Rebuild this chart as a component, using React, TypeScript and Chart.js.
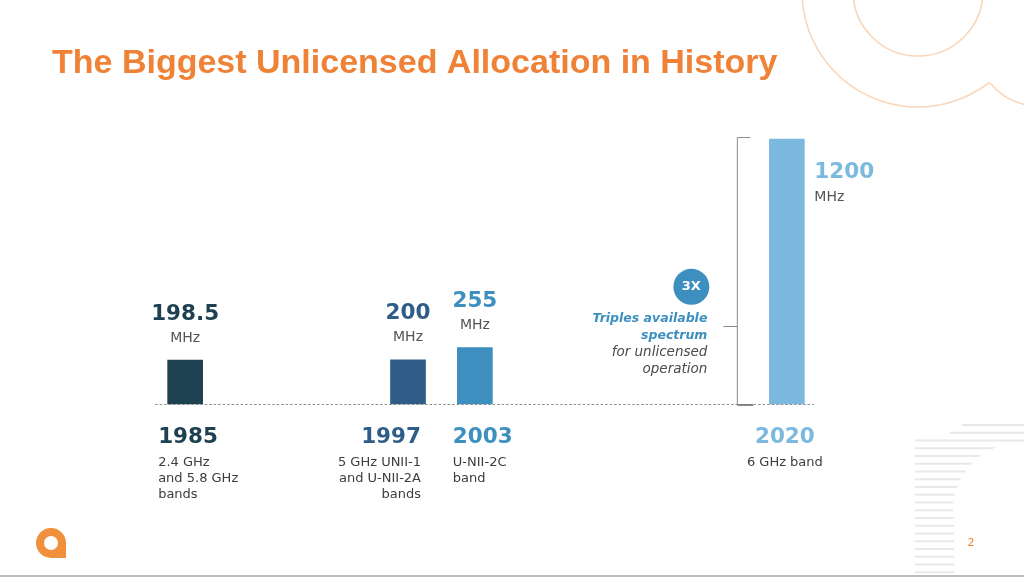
import { useEffect, useRef } from "react";
import { Chart, registerables } from "chart.js";

Chart.register(...registerables);

// ---------- data ----------
const TITLE = "The Biggest Unlicensed Allocation in History";
const YEARS = ["1985", "1997", "2003", "2020"];
const VALUES = [198.5, 200, 255, 1200];
const UNIT = "MHz";
const DESCRIPTIONS = [
  ["2.4 GHz", "and 5.8 GHz", "bands"],
  ["5 GHz UNII-1", "and U-NII-2A", "bands"],
  ["U-NII-2C", "band"],
  ["6 GHz band"],
];
const SPACERS = [9, 2, 13]; // empty timeline slots between the bars
const Y_MAX = 1200;
const BADGE = "3X";
const CALLOUT_BOLD = ["Triples available", "spectrum"];
const CALLOUT_TEXT = ["for unlicensed", "operation"];
const PAGE_NUMBER = "2";

// ---------- style ----------
const COLORS = ["#1E4151", "#2F5D88", "#3C8FBF", "#7CB9DF"];
const ORANGE = "#EF8236";
const FONT = '"DejaVu Sans"';
const LABEL_ALIGN: CanvasTextAlign[] = ["left", "right", "left", "center"];
const LABEL_DX = [-27, 13, -22, -2];

const labels: string[] = [];
const values: (number | null)[] = [];
const colors: string[] = [];
const barIndex: number[] = [];
YEARS.forEach((y, i) => {
  barIndex.push(labels.length);
  labels.push(y);
  values.push(VALUES[i]);
  colors.push(COLORS[i]);
  const gap = SPACERS[i] || 0;
  for (let k = 0; k < gap; k++) {
    labels.push("");
    values.push(null);
    colors.push("transparent");
  }
});

function txt(
  ctx: CanvasRenderingContext2D,
  s: string,
  x: number,
  y: number,
  font: string,
  color: string,
  align: CanvasTextAlign = "left",
  baseline: CanvasTextBaseline = "middle"
) {
  ctx.font = font;
  ctx.fillStyle = color;
  ctx.textAlign = align;
  ctx.textBaseline = baseline;
  ctx.fillText(s, x, y);
}

const slidePlugin = {
  id: "slide",
  beforeDraw(chart: any) {
    const ctx: CanvasRenderingContext2D = chart.ctx;
    ctx.save();
    ctx.fillStyle = "#ffffff";
    ctx.fillRect(0, 0, chart.width, chart.height);

    // decorative circles top-right
    ctx.strokeStyle = "#F8D6B8";
    ctx.lineWidth = 1.5;
    ctx.beginPath();
    ctx.arc(918, -9, 65, 0, Math.PI * 2);
    ctx.stroke();
    ctx.beginPath();
    ctx.arc(918, -9, 116, (52 * Math.PI) / 180, (176 * Math.PI) / 180);
    ctx.stroke();
    ctx.beginPath();
    ctx.moveTo(990, 83);
    ctx.quadraticCurveTo(1004, 100, 1026, 105);
    ctx.stroke();

    // stripes bottom-right
    ctx.strokeStyle = "#E8E8E8";
    ctx.lineWidth = 2;
    for (let k = 0; k < 20; k++) {
      const y = 425 + k * 7.75;
      const x0 = k === 0 ? 962 : k === 1 ? 950 : 915;
      ctx.beginPath();
      ctx.moveTo(x0, y);
      ctx.lineTo(1024, y);
      ctx.stroke();
    }
    ctx.fillStyle = "#ffffff";
    ctx.beginPath();
    ctx.arc(1020, 510, 67, 0, Math.PI * 2);
    ctx.fill();
    ctx.fillRect(954, 505, 80, 80);

    // title
    txt(ctx, TITLE, 52, 73, `bold 34px "Liberation Sans"`, ORANGE, "left", "alphabetic");

    // logo
    ctx.fillStyle = "#F0903C";
    ctx.beginPath();
    ctx.arc(51, 543, 15, 0, Math.PI * 2);
    ctx.fill();
    ctx.fillRect(51, 543, 15, 15);
    ctx.fillStyle = "#ffffff";
    ctx.beginPath();
    ctx.arc(51, 543, 7, 0, Math.PI * 2);
    ctx.fill();

    // page number
    txt(ctx, PAGE_NUMBER, 971, 543, `11px ${FONT}`, ORANGE, "center");

    // slide bottom border
    ctx.fillStyle = "#BDBDBD";
    ctx.fillRect(0, 575, chart.width, 2);
    ctx.restore();
  },
  afterDatasetsDraw(chart: any) {
    const ctx: CanvasRenderingContext2D = chart.ctx;
    const meta = chart.getDatasetMeta(0);
    const bars = barIndex.map((i) => meta.data[i]);
    const base = chart.scales.y.getPixelForValue(0);
    ctx.save();

    // dotted baseline
    ctx.strokeStyle = "#8E8E8E";
    ctx.lineWidth = 1;
    ctx.setLineDash([2.5, 2]);
    ctx.beginPath();
    ctx.moveTo(bars[0].x - 30, base + 0.5);
    ctx.lineTo(bars[bars.length - 1].x + 27, base + 0.5);
    ctx.stroke();
    ctx.setLineDash([]);

    const last = bars.length - 1;
    bars.forEach((b: any, i: number) => {
      const value = String(VALUES[i]);
      const big = `bold 21.5px ${FONT}`;
      const small = `14px ${FONT}`;
      if (i < last) {
        txt(ctx, value, b.x, b.y - 46, big, COLORS[i], "center");
        txt(ctx, UNIT, b.x, b.y - 22, small, "#555555", "center");
      } else {
        const lx = b.x + b.width / 2 + 10;
        txt(ctx, value, lx, b.y + 33, big, COLORS[i], "left");
        txt(ctx, UNIT, lx, b.y + 58, small, "#555555", "left");
      }
      const ax = b.x + LABEL_DX[i];
      txt(ctx, YEARS[i], ax, base + 33, big, COLORS[i], LABEL_ALIGN[i]);
      DESCRIPTIONS[i].forEach((line, k) => {
        txt(ctx, line, ax, base + 59 + k * 16, `13px ${FONT}`, "#3D3D3D", LABEL_ALIGN[i]);
      });
    });

    // bracket next to the largest bar
    const lb = bars[last];
    const bx = lb.x - 49.5;
    const top = lb.y - 2;
    const mid = top + 0.707 * (base - top);
    ctx.strokeStyle = "#8C8C8C";
    ctx.lineWidth = 1;
    ctx.beginPath();
    ctx.moveTo(bx + 13, top + 0.5);
    ctx.lineTo(bx, top + 0.5);
    ctx.lineTo(bx, base + 1);
    ctx.moveTo(bx - 14, Math.round(mid) + 0.5);
    ctx.lineTo(bx, Math.round(mid) + 0.5);
    ctx.stroke();
    ctx.strokeStyle = "#666666";
    ctx.lineWidth = 1.5;
    ctx.beginPath();
    ctx.moveTo(bx, base + 1);
    ctx.lineTo(bx + 16, base + 1);
    ctx.stroke();

    // callout
    const rx = bx - 30;
    ctx.fillStyle = COLORS[2];
    ctx.beginPath();
    ctx.arc(rx - 16, mid - 39, 18, 0, Math.PI * 2);
    ctx.fill();
    txt(ctx, BADGE, rx - 16, mid - 39, `bold 13px ${FONT}`, "#ffffff", "center");
    CALLOUT_BOLD.forEach((line, k) => {
      txt(ctx, line, rx, mid - 7 + k * 17, `italic bold 12.5px ${FONT}`, COLORS[2], "right");
    });
    CALLOUT_TEXT.forEach((line, k) => {
      txt(ctx, line, rx, mid + 27 + k * 16.5, `italic 13.5px ${FONT}`, "#4A4A4A", "right");
    });
    ctx.restore();
  },
};

export default function App() {
  const ref = useRef<HTMLCanvasElement>(null);
  useEffect(() => {
    const canvas = ref.current;
    if (!canvas) return;
    const chart = new Chart(canvas, {
      type: "bar",
      data: {
        labels,
        datasets: [
          {
            data: values,
            backgroundColor: colors,
            borderWidth: 0,
            barThickness: 35,
            clip: false,
          },
        ],
      },
      options: {
        responsive: false,
        animation: false,
        layout: { padding: { left: 174, right: 226, top: 139, bottom: 173 } },
        scales: {
          x: { type: "category", display: false, offset: true, grid: { display: false } },
          y: { display: false, min: 0, max: Y_MAX, grid: { display: false } },
        },
        plugins: { legend: { display: false }, tooltip: { enabled: false }, title: { display: false } },
      },
      plugins: [slidePlugin],
    } as any);
    return () => chart.destroy();
  }, []);
  return (
    <div style={{ position: "fixed", left: 0, top: 0, width: 1024, height: 577, background: "#fff" }}>
      <canvas ref={ref} width={1024} height={577} style={{ width: 1024, height: 577, display: "block" }} />
    </div>
  );
}
